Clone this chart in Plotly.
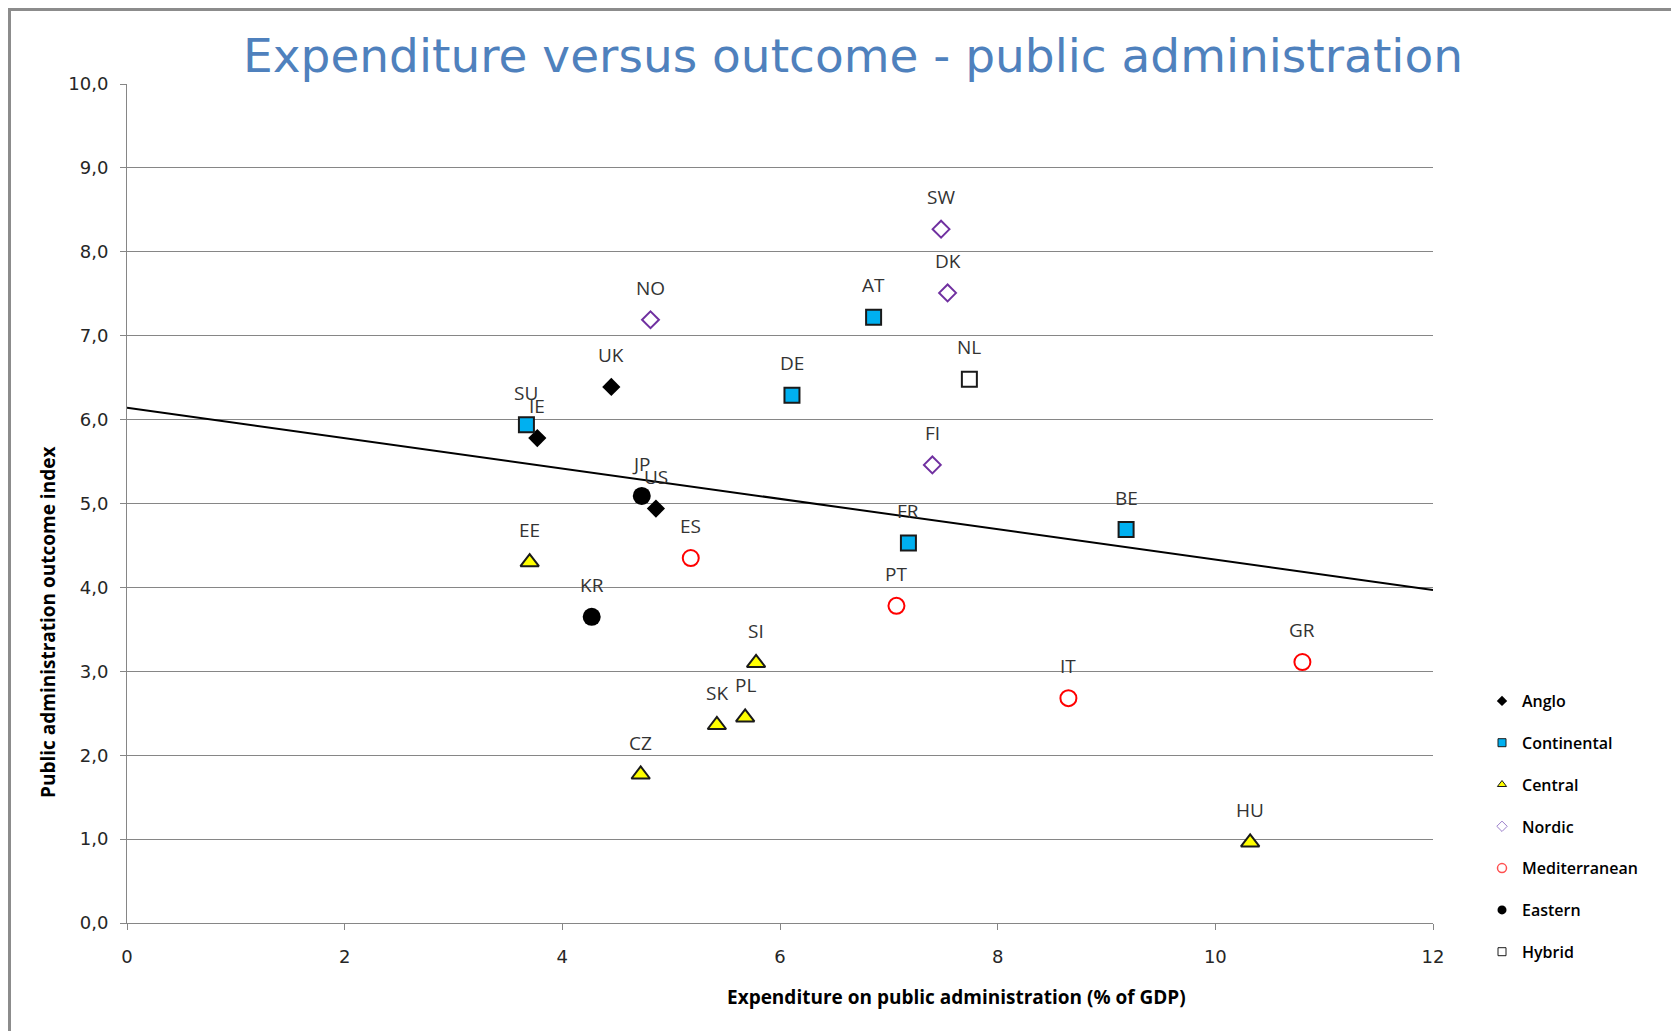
import plotly.graph_objects as go

# ---- data ----
groups = ["Anglo", "Continental", "Central", "Nordic", "Mediterranean", "Eastern", "Hybrid"]

anglo_codes = ["UK", "IE", "US"]
anglo_x = [4.45, 3.77, 4.86]
anglo_y = [6.39, 5.78, 4.94]

continental_codes = ["AT", "DE", "SU", "FR", "BE"]
continental_x = [6.86, 6.11, 3.67, 7.18, 9.18]
continental_y = [7.22, 6.29, 5.94, 4.53, 4.69]

central_codes = ["EE", "SI", "SK", "PL", "CZ", "HU"]
central_x = [3.70, 5.78, 5.42, 5.68, 4.72, 10.32]
central_y = [4.30, 3.10, 2.36, 2.45, 1.77, 0.96]

nordic_codes = ["SW", "DK", "NO", "FI"]
nordic_x = [7.48, 7.54, 4.81, 7.40]
nordic_y = [8.27, 7.51, 7.19, 5.46]

med_codes = ["ES", "PT", "IT", "GR"]
med_x = [5.18, 7.07, 8.65, 10.80]
med_y = [4.35, 3.78, 2.68, 3.11]

eastern_codes = ["JP", "KR"]
eastern_x = [4.73, 4.27]
eastern_y = [5.09, 3.65]

hybrid_codes = ["NL"]
hybrid_x = [7.74]
hybrid_y = [6.48]

trend_x = [0, 12]
trend_y = [6.14, 3.97]

y_tickvals = [0, 1, 2, 3, 4, 5, 6, 7, 8, 9, 10]
y_ticktext = ["0,0", "1,0", "2,0", "3,0", "4,0", "5,0", "6,0", "7,0", "8,0", "9,0", "10,0"]
x_tickvals = [0, 2, 4, 6, 8, 10, 12]

title_text = "Expenditure versus outcome - public administration"
x_title = "Expenditure on public administration (% of GDP)"
y_title = "Public administration outcome index"

# ---- styles ----
series = [
    ("Anglo", anglo_codes, anglo_x, anglo_y,
     dict(symbol="diamond", size=14, color="black", line=dict(color="black", width=0)),
     dict(symbol="diamond", size=8, color="black", line=dict(color="black", width=0))),
    ("Continental", continental_codes, continental_x, continental_y,
     dict(symbol="square", size=15, color="#00B0F0", line=dict(color="#1a1a1a", width=2)),
     dict(symbol="square", size=8, color="#00B0F0", line=dict(color="#1a1a1a", width=1))),
    ("Central", central_codes, central_x, central_y,
     dict(symbol="triangle-up", size=16, color="#FFFF00", line=dict(color="#1a1a1a", width=2)),
     dict(symbol="triangle-up", size=8, color="#FFFF00", line=dict(color="#1a1a1a", width=1))),
    ("Nordic", nordic_codes, nordic_x, nordic_y,
     dict(symbol="diamond-open", size=13, color="#7030A0", line=dict(color="#7F4FBF", width=2)),
     dict(symbol="diamond-open", size=8, color="#9B7FCB", line=dict(color="#9B7FCB", width=1))),
    ("Mediterranean", med_codes, med_x, med_y,
     dict(symbol="circle-open", size=16, color="#FF0000", line=dict(color="#FF0000", width=2)),
     dict(symbol="circle-open", size=9, color="#FF5050", line=dict(color="#FF5050", width=1.5))),
    ("Eastern", eastern_codes, eastern_x, eastern_y,
     dict(symbol="circle", size=18, color="black", line=dict(color="black", width=0)),
     dict(symbol="circle", size=9, color="black", line=dict(color="black", width=0))),
    ("Hybrid", hybrid_codes, hybrid_x, hybrid_y,
     dict(symbol="square", size=15, color="white", line=dict(color="#1a1a1a", width=2)),
     dict(symbol="square", size=8, color="white", line=dict(color="#1a1a1a", width=1))),
]

fig = go.Figure()

# trendline
fig.add_trace(go.Scatter(x=trend_x, y=trend_y, mode="lines",
                         line=dict(color="black", width=2), showlegend=False,
                         hoverinfo="skip"))

annotations = []
for name, codes, xs, ys, mk, lmk in series:
    fig.add_trace(go.Scatter(x=xs, y=ys, mode="markers", marker=mk, name=name,
                             text=codes, showlegend=False))
    for c, xv, yv in zip(codes, xs, ys):
        annotations.append(dict(x=xv, y=yv, xref="x", yref="y", text=c, showarrow=False,
                                yshift=32, xanchor="center", yanchor="middle",
                                font=dict(family="Open Sans", size=19, color="#333333")))

# legend entries (small symbols as in the reference)
for name, codes, xs, ys, mk, lmk in series:
    fig.add_trace(go.Scatter(x=[None], y=[None], mode="markers", marker=lmk, name=name,
                             legendgroup=name, showlegend=True))

W, H = 1679, 1031
OFF = 8  # page body margin
# target plot area in page pixels: x 127..1433, y 84..923
L = 127 - OFF
T = 84 - OFF
R = W - (1433 - OFF)
B = H - (923 - OFF)
pw = W - L - R
ph = H - T - B

def px2paper_x(px):
    return (px - OFF - L) / pw

def px2paper_y(py):
    return (H - B - (py - OFF)) / ph

annotations.append(dict(x=px2paper_x(957), y=px2paper_y(997), xref="paper", yref="paper",
                        text=x_title, showarrow=False, xanchor="center", yanchor="middle",
                        font=dict(family="Open Sans", size=19, color="black", weight="bold")))
annotations.append(dict(x=px2paper_x(48), y=px2paper_y(623), xref="paper", yref="paper",
                        text=y_title, showarrow=False, xanchor="center", yanchor="middle",
                        textangle=-90,
                        font=dict(family="Open Sans", size=19, color="black", weight="bold")))

# chart-area frame (left and top edges visible in the reference)
shapes = [
    dict(type="line", xref="paper", yref="paper",
         x0=px2paper_x(9.5), x1=px2paper_x(9.5), y0=px2paper_y(9.5), y1=px2paper_y(1045),
         line=dict(color="#8c8c8c", width=3)),
    dict(type="line", xref="paper", yref="paper",
         x0=px2paper_x(8), x1=px2paper_x(1700), y0=px2paper_y(9.5), y1=px2paper_y(9.5),
         line=dict(color="#8c8c8c", width=3)),
]

fig.update_layout(
    width=W, height=H,
    margin=dict(l=L, r=R, t=T, b=B),
    paper_bgcolor="white", plot_bgcolor="white",
    title=dict(text=title_text, x=(853 - OFF) / W, y=1 - (56 - OFF) / H,
               xanchor="center", yanchor="middle",
               font=dict(family="DejaVu Sans", size=47, color="#4F81BD")),
    xaxis=dict(range=[0, 12], tickvals=x_tickvals, showgrid=False, zeroline=False,
               showline=True, linecolor="#868686", linewidth=1,
               ticks="outside", ticklen=6, tickcolor="#868686",
               tickfont=dict(family="DejaVu Sans", size=18, color="#262626"),
               ticklabelstandoff=11),
    yaxis=dict(range=[0, 10], tickvals=y_tickvals, ticktext=y_ticktext,
               showgrid=True, gridcolor="#868686", gridwidth=1, zeroline=False,
               showline=True, linecolor="#868686", linewidth=1,
               ticks="outside", ticklen=6, tickcolor="#868686",
               tickfont=dict(family="DejaVu Sans", size=18, color="#262626"),
               ticklabelstandoff=8),
    legend=dict(x=px2paper_x(1482), y=px2paper_y(684), xanchor="left", yanchor="top",
                font=dict(family="Open Sans", size=16, color="black", weight=600),
                tracegroupgap=18, itemwidth=30, bgcolor="rgba(0,0,0,0)"),
    annotations=annotations,
    shapes=shapes,
    showlegend=True,
)

fig.write_html("out.html")
